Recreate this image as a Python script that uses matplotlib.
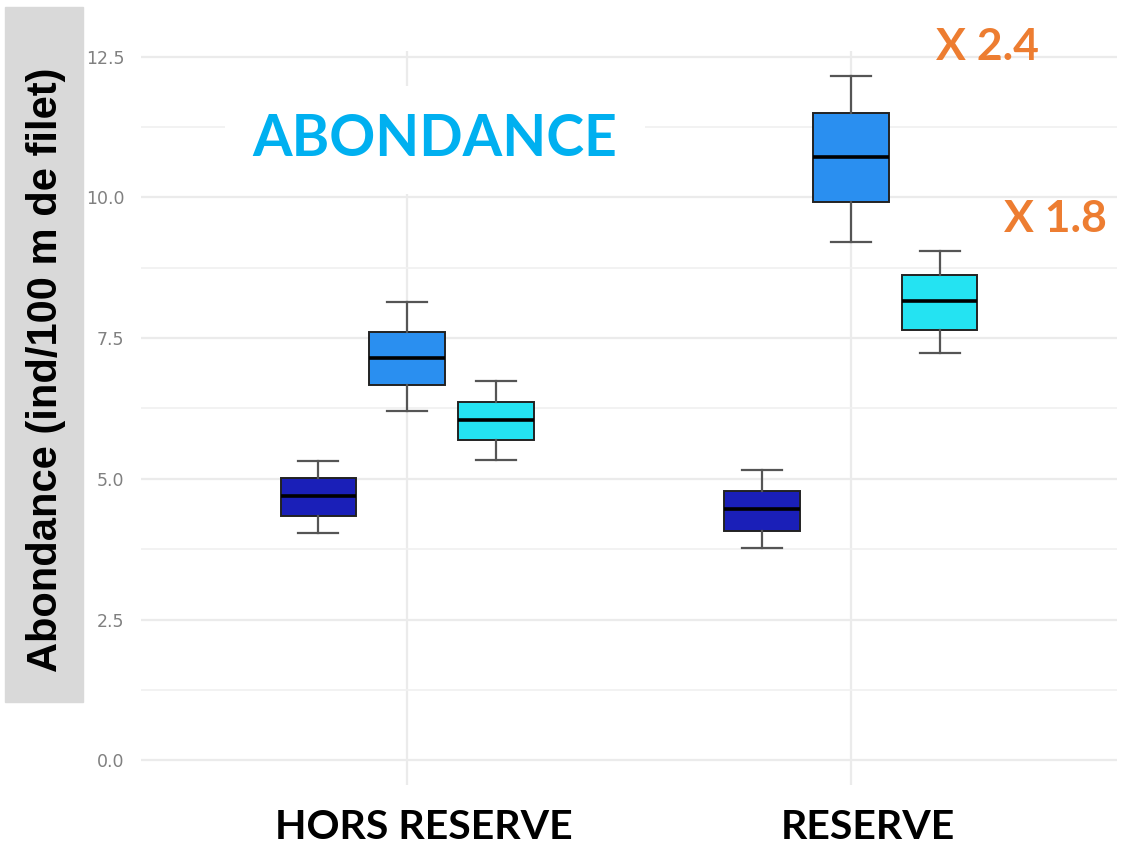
import matplotlib.pyplot as plt
from matplotlib.patches import Rectangle
from matplotlib.transforms import ScaledTranslation

# data
sites = ["HORS RESERVE", "RESERVE"]
box_colors = ["#1a1fb8", "#2a8ff0", "#24e3f2"]

# one list per box: low whisker, Q1, median, Q3, high whisker
hors_low = [4.04, 6.21, 5.33]
hors_q1 = [4.34, 6.67, 5.69]
hors_med = [4.69, 7.15, 6.05]
hors_q3 = [5.01, 7.61, 6.37]
hors_high = [5.32, 8.14, 6.74]

res_low = [3.77, 9.21, 7.24]
res_q1 = [4.07, 9.92, 7.65]
res_med = [4.46, 10.72, 8.16]
res_q3 = [4.78, 11.49, 8.62]
res_high = [5.16, 12.16, 9.05]

y_ticks = [0.0, 2.5, 5.0, 7.5, 10.0, 12.5]
y_label = "Abondance (ind/100 m de filet)"
title = "ABONDANCE"
ratios = ["X 2.4", "X 1.8"]

W, H = 1127, 851
fig = plt.figure(figsize=(W / 100, H / 100), dpi=100)
ax = fig.add_axes([141 / W, (H - 785) / H, (1117 - 141) / W, (785 - 51) / H])

groups = [(hors_low, hors_q1, hors_med, hors_q3, hors_high),
          (res_low, res_q1, res_med, res_q3, res_high)]
offsets = [-0.2, 0.0, 0.2]

for gi, (lo, q1, med, q3, hi) in enumerate(groups):
    stats = []
    for k in range(3):
        stats.append({"whislo": lo[k], "q1": q1[k], "med": med[k],
                      "q3": q3[k], "whishi": hi[k], "fliers": []})
    pos = [gi + 1 + o for o in offsets]
    bp = ax.bxp(stats, positions=pos, widths=0.17, patch_artist=True,
                showfliers=False,
                boxprops=dict(edgecolor="#222222", linewidth=1.4),
                medianprops=dict(color="black", linewidth=2.6),
                whiskerprops=dict(color="#555555", linewidth=1.6),
                capprops=dict(color="#555555", linewidth=1.6),
                capwidths=0.09, zorder=3)
    for patch, c in zip(bp["boxes"], box_colors):
        patch.set_facecolor(c)

ax.set_xlim(0.4, 2.6)
ax.set_ylim(-0.44, 12.6)
ax.set_xticks([1, 2])
ax.set_xticklabels(sites, fontsize=29.5, fontweight="bold", family="Lato")
ax.set_yticks(y_ticks)
ax.set_yticklabels([f"{v:.1f}" for v in y_ticks], fontsize=12.5, color="#808080")
ax.set_yticks([1.25, 3.75, 6.25, 8.75, 11.25], minor=True)
ax.tick_params(axis="both", which="both", length=0)
ax.tick_params(axis="x", pad=17)
ax.tick_params(axis="y", pad=12)
ax.grid(True, which="major", color="#ebebeb", linewidth=1.6, zorder=0)
ax.grid(True, which="minor", axis="y", color="#f0f0f0", linewidth=1.2, zorder=0)
ax.set_axisbelow(True)
for s in ax.spines.values():
    s.set_visible(False)

# the category labels sit a bit right of the ticks in the original
for lbl in ax.get_xticklabels():
    lbl.set_transform(lbl.get_transform() + ScaledTranslation(0.17, 0, fig.dpi_scale_trans))

# gray box behind the y label
fig.patches.append(Rectangle((5 / W, (H - 702) / H), 78 / W, 695 / H,
                             transform=fig.transFigure, color="#d9d9d9", zorder=0))
fig.text(46 / W, (H - 370) / H, y_label, rotation=90, ha="center", va="center",
         fontsize=30, fontweight="bold", family="Liberation Sans")

# title with a white box over the grid
fig.text(435 / W, (H - 140) / H, title, ha="center", va="center", fontsize=41,
         fontweight="bold", family="Lato", color="#00b0f0",
         bbox=dict(facecolor="white", edgecolor="none", pad=20))

fig.text(987 / W, (H - 47) / H, ratios[0], ha="center", va="center", fontsize=32,
         fontweight="bold", family="Lato", color="#ed7d31")
fig.text(1055 / W, (H - 219) / H, ratios[1], ha="center", va="center", fontsize=32,
         fontweight="bold", family="Lato", color="#ed7d31")

fig.savefig("out.png", dpi=100, facecolor="white")
